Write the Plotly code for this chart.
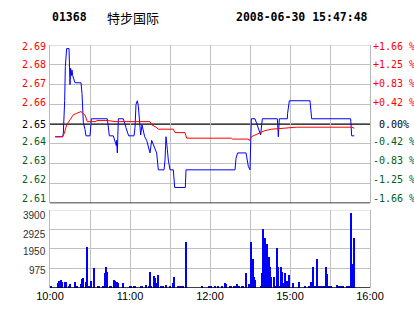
import plotly.graph_objects as go

# ---------------- data ----------------
stock_code = "01368"
stock_name = "特步国际"
timestamp = "2008-06-30 15:47:48"
prev_close = 2.65
pct_range = 1.66  # percent shown at top/bottom

# trading minutes since 10:00 (12:30 -> 14:30 lunch gap removed)
price_minutes = [4, 9.5, 10, 11, 11.5, 12.5, 14.25, 14.5, 15, 15.5, 16, 16.5, 17, 18.75, 23.25, 24, 25, 26.25,
                 27, 30, 31, 43, 44.5, 47.5, 48.75, 49.75, 50, 50.5, 51.25, 55, 57, 59, 63, 63.75, 64.5, 65.5,
                 66.25, 67, 68, 69, 71, 72.5, 75, 76.25, 77.5, 80, 81.25, 85.5, 86.25, 87, 88, 88.75, 90, 92.5,
                 93.5, 101.5, 102, 138.75, 139.5, 140.75, 147, 147.5, 148.75, 150, 150.25, 151, 153.75, 156.25,
                 158, 159.25, 170.5, 171.25, 172, 178, 178.2, 179.5, 195, 196.25, 225.5, 226.25, 228.25]
price_values = [2.643, 2.643, 2.645, 2.663, 2.682, 2.692, 2.692, 2.682, 2.672, 2.681, 2.677, 2.680, 2.677, 2.673,
                2.673, 2.667, 2.651, 2.647, 2.6435, 2.6435, 2.653, 2.653, 2.6435, 2.6435, 2.641, 2.638, 2.641,
                2.634, 2.653, 2.653, 2.648, 2.6435, 2.6435, 2.648, 2.661, 2.663, 2.660, 2.6505, 2.644, 2.6496,
                2.643, 2.641, 2.634, 2.641, 2.6385, 2.634, 2.6246, 2.6246, 2.630, 2.643, 2.636, 2.630, 2.6246,
                2.6246, 2.6148, 2.6148, 2.6246, 2.6246, 2.631, 2.634, 2.634, 2.631, 2.6265, 2.6246, 2.639, 2.653,
                2.653, 2.648, 2.644, 2.653, 2.653, 2.643, 2.653, 2.653, 2.656, 2.663, 2.663, 2.653, 2.653, 2.6435,
                2.6435]

avg_minutes = [3.75, 9.5, 10.75, 12.5, 15, 17.5, 20, 23.25, 26.25, 28, 34.5, 35, 43.75, 48.75, 75, 76.25, 79.5,
               81.25, 92.5, 93.75, 101.25, 102.5, 136.25, 137, 148.75, 149.5, 151.25, 153.75, 157.5, 161.25,
               166.25, 173.75, 185, 226.25, 228.25]
avg_values = [2.643, 2.643, 2.645, 2.6496, 2.6524, 2.6552, 2.656, 2.657, 2.655, 2.6514, 2.6514, 2.652, 2.652,
              2.6514, 2.6514, 2.6496, 2.6483, 2.6472, 2.6472, 2.6453, 2.6453, 2.6422, 2.6422, 2.6417, 2.6417,
              2.6409, 2.6431, 2.644, 2.645, 2.6464, 2.6472, 2.6477, 2.6483, 2.6483, 2.6477]

vol_minutes = [1, 6, 7, 8, 9, 11, 12, 14, 15, 19, 20, 23, 24, 25, 27, 28, 29, 30, 31, 33, 36, 37, 40, 41, 42, 43,
               45, 46, 48, 49, 50, 51, 55, 60, 61, 63, 64, 68, 69, 72, 74, 75, 76, 78, 79, 80, 81, 83, 85, 87, 90,
               92, 93, 96, 97, 98, 99, 100, 102,
               114, 119, 120, 121, 124, 126, 129, 131, 132, 135, 136, 138, 139, 140, 142, 144, 145, 147, 149, 150,
               151, 152, 153, 154, 158, 159, 160, 160.75, 161.5, 162.25, 163, 164.25, 165, 165.75, 168, 169.5,
               170.5, 171.25, 172, 173.25, 174, 175, 176.5, 177.25, 178, 179.5, 182.5, 187, 191.5, 194.5, 195.5,
               196, 197.5, 199, 200.5, 202, 203.5, 204.5, 205.5, 206.5, 207.25, 208, 209.5, 210.5, 215.5, 216.5,
               217.5, 219, 220, 222.5, 224.5, 226, 227.5, 228.25]
vol_values = [115, 247, 362, 412, 296, 313, 313, 115, 214, 313, 115, 214, 445, 511, 313, 2040, 115, 115, 362, 990,
              115, 115, 115, 775, 1055, 805, 115, 115, 410, 360, 315, 265, 245, 115, 115, 115, 115, 115, 115, 165,
              115, 805, 115, 610, 510, 245, 660, 115, 115, 165, 115, 245, 545, 115, 115, 115, 115, 115, 2290,
              115, 115, 115, 115, 115, 115, 115, 265, 215, 115, 115, 115, 115, 215, 115, 115, 115, 760, 215, 165,
              2290, 1450, 560, 410, 115, 760, 2930, 760, 2490, 560, 2190, 1550, 1055, 560, 560, 115,
              1990, 1055, 115, 1055, 805, 265, 760, 315, 360, 660, 265, 315, 115, 115, 115,
              315, 1055, 115, 1450, 115, 115, 115, 115, 115, 1055, 710, 115, 115, 165, 115,
              115, 115, 115, 115, 115, 3770, 1200, 2490]

x_tick_vals = [0, 30, 60, 90, 120, 150, 180, 210, 240]
x_tick_text = ["10:00", "", "11:00", "", "12:00", "", "15:00", "", "16:00"]
vol_ticks = [975, 1950, 2925, 3900]
vol_tick_text = ["975", "1950", "2925", "3900"]
# bottom -> top
price_tick_text = ["2.61", "2.62", "2.63", "2.64", "2.65", "2.66", "2.67", "2.68", "2.69"]
pct_tick_text = ["-1.66 %", "-1.25 %", "-0.83 %", "-0.42 %", "\u00a00.00%", "+0.42 %", "+0.83 %", "+1.25 %",
                 "+1.66 %"]

# ---------------- derived scale ----------------
half = prev_close * pct_range / 100.0
step = half / 4
p_lo, p_hi = prev_close - half, prev_close + half
price_grid = [prev_close + step * k for k in range(-4, 5)]

RED = "#ff0000"
GREEN = "#006020"
BLACK = "#000000"
GRID = "#c0c0c0"
MONO = "DejaVu Sans Mono"

fig = go.Figure()
fig.add_trace(go.Scatter(x=price_minutes, y=price_values, mode="lines",
                         line=dict(color="#0000ff", width=1), xaxis="x", yaxis="y", hoverinfo="skip"))
fig.add_trace(go.Scatter(x=avg_minutes, y=avg_values, mode="lines",
                         line=dict(color="#ff0000", width=1), xaxis="x", yaxis="y", hoverinfo="skip"))
fig.add_trace(go.Bar(x=vol_minutes, y=vol_values, width=0.8, marker=dict(color="#0000ff", line=dict(width=0)),
                     xaxis="x2", yaxis="y2", hoverinfo="skip"))

price_top_dom = 1.0
price_bot_dom = 0.3486
vol_top_dom = 0.3215

inner_price_grid = [v for k, v in enumerate(price_grid) if k not in (0, 4, 8)]

fig.update_layout(
    width=414, height=314,
    margin=dict(l=50, r=44, t=45, b=26),
    paper_bgcolor="white", plot_bgcolor="white",
    showlegend=False,
    bargap=0,
    xaxis=dict(domain=[0, 1], anchor="y", range=[0, 240], tickvals=x_tick_vals[1:-1],
               showticklabels=False, showgrid=True, gridcolor=GRID, gridwidth=1, zeroline=False,
               showline=False, ticks=""),
    xaxis2=dict(domain=[0, 1], anchor="y2", range=[0, 240], tickvals=x_tick_vals, ticktext=x_tick_text,
                showticklabels=True, showgrid=True, gridcolor=GRID, gridwidth=1, zeroline=False,
                showline=False, ticks="", tickfont=dict(family="Liberation Sans", size=11, color=BLACK)),
    yaxis=dict(domain=[price_bot_dom, price_top_dom], anchor="x", range=[p_lo, p_hi],
               tickvals=inner_price_grid, showticklabels=False, showgrid=True, gridcolor=GRID,
               zeroline=False, showline=True, linecolor="#b8b8b8", linewidth=1, mirror=True, ticks=""),
    yaxis2=dict(domain=[0, vol_top_dom], anchor="x2", range=[0, vol_ticks[-1]],
                tickvals=vol_ticks[:-1], showticklabels=False, showgrid=True, gridcolor=GRID,
                zeroline=False, showline=True, linecolor="#b8b8b8", linewidth=1, mirror=True, ticks=""),
)

shapes = [
    dict(type="line", xref="paper", yref="y", x0=0, x1=1, y0=p_hi, y1=p_hi,
         line=dict(color=GRID, width=1), layer="below"),
    dict(type="line", xref="paper", yref="y", x0=0, x1=1, y0=prev_close, y1=prev_close,
         line=dict(color=BLACK, width=1.3), layer="below"),
    dict(type="line", xref="paper", yref="y", x0=0, x1=1, y0=p_lo, y1=p_lo,
         line=dict(color=BLACK, width=1.5), layer="above"),
    dict(type="line", xref="paper", yref="y2", x0=0, x1=1, y0=vol_ticks[-1], y1=vol_ticks[-1],
         line=dict(color=GRID, width=1), layer="below"),
    dict(type="line", xref="paper", yref="y2", x0=0, x1=1, y0=0, y1=0,
         line=dict(color=BLACK, width=1.5), layer="above"),
]
fig.update_layout(shapes=shapes)

ann = []
# header
ann.append(dict(text="<b>%s</b>" % stock_code, xref="paper", yref="paper", x=0, y=1, xanchor="left",
                yanchor="middle", yshift=28, showarrow=False,
                font=dict(family=MONO, size=11.5, color=BLACK)))
ann.append(dict(text=stock_name, xref="paper", yref="paper", x=55 / 320, y=1, xanchor="left",
                yanchor="middle", yshift=28, showarrow=False,
                font=dict(family="Noto Sans CJK SC", size=13, color=BLACK)))
ann.append(dict(text="<b>%s</b>" % timestamp, xref="paper", yref="paper", x=1, y=1, xanchor="right",
                yanchor="middle", yshift=28, showarrow=False,
                font=dict(family=MONO, size=11.5, color=BLACK)))

label_shift = [5, 4, 3, 2, 0, 2, 1, 0, -1]  # bottom -> top
for k, (v, lab, pl) in enumerate(zip(price_grid, price_tick_text, pct_tick_text)):
    col = RED if k > 4 else (GREEN if k < 4 else BLACK)
    ann.append(dict(text=lab, xref="paper", yref="y", x=0, y=v, xanchor="right", yanchor="middle",
                    xshift=-2, yshift=label_shift[k], showarrow=False,
                    font=dict(family=MONO, size=10, color=col)))
    ann.append(dict(text=pl, xref="paper", yref="y", x=1, y=v, xanchor="left", yanchor="middle",
                    xshift=1, yshift=label_shift[k], showarrow=False,
                    font=dict(family=MONO, size=10, color=col)))

vol_shift = [-2, -3, -5, -6]
for v, lab, s in zip(vol_ticks, vol_tick_text, vol_shift):
    ann.append(dict(text=lab, xref="paper", yref="y2", x=0, y=v, xanchor="right", yanchor="middle",
                    xshift=-2, yshift=s, showarrow=False,
                    font=dict(family="Liberation Sans", size=10, color="#303030")))
fig.update_layout(annotations=ann)

fig.write_html("out.html")
